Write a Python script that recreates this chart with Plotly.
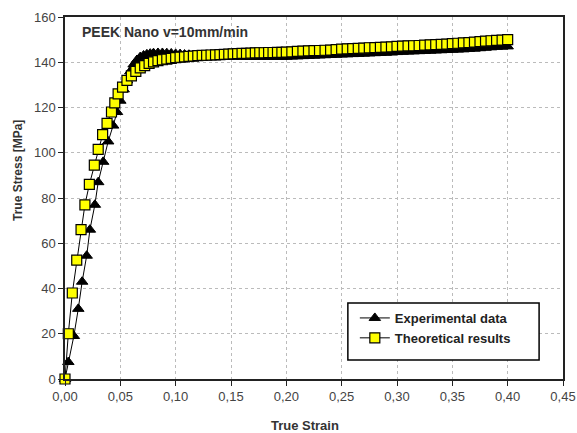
import plotly.graph_objects as go

# Experimental data (black triangles)
exp_strain = [0.000, 0.003, 0.008, 0.012, 0.0155, 0.0196, 0.0225, 0.027, 0.030, 0.0345,
              0.039, 0.0435, 0.047, 0.050, 0.053, 0.056, 0.059, 0.062, 0.065, 0.068,
              0.071, 0.074, 0.077, 0.080, 0.084, 0.088, 0.092, 0.096, 0.100,
              0.104, 0.108, 0.112, 0.116, 0.120, 0.124, 0.128, 0.132, 0.136, 0.140,
              0.144, 0.148, 0.152, 0.156, 0.160, 0.164, 0.168, 0.172, 0.176, 0.180,
              0.184, 0.188, 0.192, 0.196, 0.200,
              0.205, 0.210, 0.215, 0.220, 0.225, 0.230, 0.235, 0.240, 0.245, 0.250,
              0.255, 0.260, 0.265, 0.270, 0.275, 0.280, 0.285, 0.290, 0.295, 0.300,
              0.305, 0.310, 0.315, 0.320, 0.325, 0.330, 0.335, 0.340, 0.345, 0.350,
              0.355, 0.360, 0.365, 0.370, 0.375, 0.380, 0.385, 0.390, 0.395, 0.400]
exp_stress = [0.0, 7.5, 19.0, 31.0, 43.0, 54.5, 66.0, 77.0, 87.0, 96.0,
              105.0, 112.0, 118.0, 123.0, 128.0, 132.0, 136.0, 139.0, 141.0, 142.3,
              143.0, 143.5, 143.8, 144.0, 144.1, 144.1, 144.0, 143.9, 143.7,
              143.6, 143.4, 143.3, 143.2, 143.0, 142.9, 142.8, 142.7, 142.7, 142.6,
              142.6, 142.5, 142.5, 142.5, 142.4, 142.4, 142.4, 142.4, 142.4, 142.4,
              142.4, 142.4, 142.4, 142.4, 142.4,
              142.5, 142.6, 142.7, 142.8, 142.9, 143.0, 143.1, 143.2, 143.3, 143.4,
              143.5, 143.6, 143.7, 143.8, 143.9, 144.0, 144.1, 144.2, 144.3, 144.5,
              144.6, 144.7, 144.8, 144.9, 145.0, 145.1, 145.2, 145.3, 145.4, 145.5,
              145.6, 145.7, 145.9, 146.0, 146.2, 146.4, 146.6, 146.8, 146.9, 147.0]

# Theoretical results (yellow squares)
th_strain = [0.000, 0.003, 0.0066, 0.0106, 0.0145, 0.018, 0.022, 0.0265, 0.030, 0.034,
             0.038, 0.042, 0.045, 0.048, 0.052, 0.056, 0.060, 0.064, 0.068, 0.072,
             0.076, 0.080, 0.084, 0.088, 0.092, 0.096, 0.100,
             0.104, 0.108, 0.112, 0.116, 0.120, 0.124, 0.128, 0.132, 0.136, 0.140,
             0.144, 0.148, 0.152, 0.156, 0.160, 0.164, 0.168, 0.172, 0.176, 0.180,
             0.184, 0.188, 0.192, 0.196, 0.200,
             0.205, 0.210, 0.215, 0.220, 0.225, 0.230, 0.235, 0.240, 0.245, 0.250,
             0.255, 0.260, 0.265, 0.270, 0.275, 0.280, 0.285, 0.290, 0.295, 0.300,
             0.305, 0.310, 0.315, 0.320, 0.325, 0.330, 0.335, 0.340, 0.345, 0.350,
             0.355, 0.360, 0.365, 0.370, 0.375, 0.380, 0.385, 0.390, 0.395, 0.400]
th_stress = [0.0, 20.0, 38.0, 52.5, 66.0, 77.0, 86.0, 94.5, 101.5, 108.0,
             113.0, 118.0, 122.0, 126.0, 129.0, 132.0, 134.0, 136.0, 137.5, 138.5,
             139.5, 140.2, 140.7, 141.1, 141.4, 141.7, 142.0,
             142.2, 142.4, 142.6, 142.7, 142.9, 143.0, 143.1, 143.2, 143.3, 143.4,
             143.5, 143.6, 143.7, 143.8, 143.9, 143.9, 144.0, 144.1, 144.2, 144.2,
             144.3, 144.3, 144.4, 144.4, 144.5,
             144.6, 144.8, 144.9, 145.0, 145.1, 145.2, 145.3, 145.4, 145.6, 145.8,
             145.9, 146.0, 146.1, 146.2, 146.4, 146.5, 146.6, 146.7, 146.8, 147.0,
             147.1, 147.2, 147.3, 147.4, 147.6, 147.7, 147.8, 147.9, 148.0, 148.2,
             148.4, 148.6, 148.7, 148.9, 149.1, 149.3, 149.5, 149.7, 149.8, 150.0]

x_ticks = [0.00, 0.05, 0.10, 0.15, 0.20, 0.25, 0.30, 0.35, 0.40, 0.45]
x_tick_labels = ["0,00", "0,05", "0,10", "0,15", "0,20", "0,25", "0,30", "0,35", "0,40", "0,45"]
y_ticks = [0, 20, 40, 60, 80, 100, 120, 140, 160]

FONT = "Liberation Sans, Arial, sans-serif"
TXT = "#333333"

fig = go.Figure()
fig.add_trace(go.Scatter(
    x=exp_strain, y=exp_stress, mode="lines+markers", name="Experimental data",
    line=dict(color="black", width=1),
    marker=dict(symbol="triangle-up", size=10, color="black", line=dict(color="black", width=1)),
    cliponaxis=False,
))
fig.add_trace(go.Scatter(
    x=th_strain, y=th_stress, mode="lines+markers", name="Theoretical results",
    line=dict(color="black", width=1),
    marker=dict(symbol="square", size=10, color="#ffff00", line=dict(color="black", width=1.2)),
    cliponaxis=False,
))

fig.update_layout(
    width=577, height=433,
    margin=dict(l=65, r=14, t=17, b=54, autoexpand=False),
    paper_bgcolor="white", plot_bgcolor="white",
    font=dict(family=FONT, size=13, color=TXT),
    showlegend=True,
    legend=dict(
        x=0.582, y=0.210, xanchor="left", yanchor="top",
        bgcolor="rgba(0,0,0,0)", borderwidth=0,
        font=dict(family=FONT, size=13, color="#222222", weight="bold"),
        itemwidth=30, tracegroupgap=0,
    ),
    shapes=[dict(
        type="rect", xref="paper", yref="paper", x0=0.568, x1=0.952, y0=0.0525, y1=0.210,
        line=dict(color="black", width=1.5), fillcolor="white", layer="above",
    )],
    annotations=[
        dict(text="<b>PEEK Nano v=10mm/min</b>", x=0.030, y=0.9586, xref="paper", yref="paper",
             xanchor="left", yanchor="middle", showarrow=False,
             font=dict(family=FONT, size=14, color=TXT)),
        dict(text="<b>True Strain</b>", x=0.482, y=-0.128, xref="paper", yref="paper",
             xanchor="center", yanchor="middle", showarrow=False,
             font=dict(family=FONT, size=13, color=TXT)),
        dict(text="<b>True Stress [MPa]</b>", x=-0.094, y=0.575, xref="paper", yref="paper",
             xanchor="center", yanchor="middle", showarrow=False, textangle=-90,
             font=dict(family=FONT, size=12, color=TXT)),
    ],
)
fig.update_xaxes(
    range=[0, 0.45], tickvals=x_ticks, ticktext=x_tick_labels, automargin=False,
    showline=True, linecolor="#222222", linewidth=1.5, mirror=True,
    ticks="outside", ticklen=5, tickcolor="#222222",
    showgrid=True, gridcolor="#bbbbbb", griddash="dot", gridwidth=1,
    zeroline=False,
    tickfont=dict(family=FONT, size=13, color="#444444"),
)
fig.update_yaxes(
    range=[0, 160], tickvals=y_ticks, automargin=False,
    showline=True, linecolor="#222222", linewidth=1.5, mirror=True,
    ticks="outside", ticklen=5, tickcolor="#222222",
    showgrid=True, gridcolor="#bbbbbb", griddash="dot", gridwidth=1,
    zeroline=False,
    tickfont=dict(family=FONT, size=13, color="#444444"),
)

# remove the page's default body margin so the 577x433 figure fills the window exactly
fig.write_html(
    "out.html",
    config={"displayModeBar": False},
    post_script="document.body.style.margin='0';document.body.style.overflow='hidden';",
)
